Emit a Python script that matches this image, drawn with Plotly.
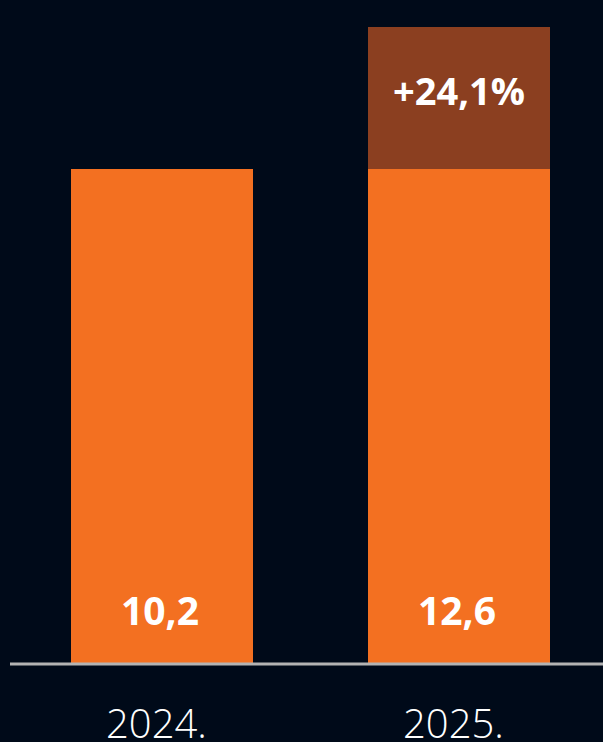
import plotly.graph_objects as go

years = ["2024.", "2025."]
values = [10.2, 12.6]
value_labels = ["10,2", "12,6"]
growth_label = "+24,1%"

BG = "#000a19"
ORANGE = "#f37021"
BROWN = "#8b3f20"

x_pos = [0, 1]
base_vals = [values[0], values[0]]
increase = [0, values[1] - values[0]]

fig = go.Figure()
fig.add_trace(go.Bar(x=x_pos, y=base_vals, marker=dict(color=ORANGE, line=dict(width=0)),
                     width=0.613, hoverinfo="skip"))
fig.add_trace(go.Bar(x=x_pos, y=increase, marker=dict(color=BROWN, line=dict(width=0)),
                     width=0.613, hoverinfo="skip"))

annotations = []
for xi, lab in zip(x_pos, value_labels):
    annotations.append(dict(x=xi, y=0, xref="x", yref="paper", yshift=55, xshift=-2,
                            yanchor="middle",
                            text=lab, showarrow=False,
                            font=dict(family="Open Sans", size=39, color="white", weight="bold")))
annotations.append(dict(x=1, y=(values[0] + values[1]) / 2, xref="x", yref="y", yshift=8,
                        yanchor="middle", text=growth_label, showarrow=False,
                        font=dict(family="Open Sans", size=38, color="white", weight="bold")))
for xi, yr in zip(x_pos, years):
    annotations.append(dict(x=xi, y=0, xref="x", yref="paper", xshift=-6, yshift=-88,
                            yanchor="bottom", text=yr, showarrow=False,
                            font=dict(family="Open Sans", size=40, color="white", weight=300)))

fig.update_layout(
    width=603, height=742,
    barmode="stack",
    showlegend=False,
    paper_bgcolor=BG, plot_bgcolor=BG,
    margin=dict(l=0, r=0, t=0, b=78),
    xaxis=dict(range=[-0.5118, 1.4848], domain=[10 / 603, 1], showgrid=False, zeroline=False,
               showticklabels=False, showline=False, fixedrange=True),
    yaxis=dict(range=[1.835, 13.057], showgrid=False, zeroline=False, showticklabels=False,
               showline=False, fixedrange=True),
    annotations=annotations,
    shapes=[dict(type="line", xref="paper", yref="paper", x0=10 / 603, x1=1, y0=0, y1=0,
                 line=dict(color="#b3b3b3", width=3))],
)

fig.write_html(
    "out.html",
    config={"displayModeBar": False},
    post_script="document.body.style.margin='0';document.body.style.padding='0';"
                "document.body.style.background='#000a19';document.body.style.overflow='hidden';",
)
